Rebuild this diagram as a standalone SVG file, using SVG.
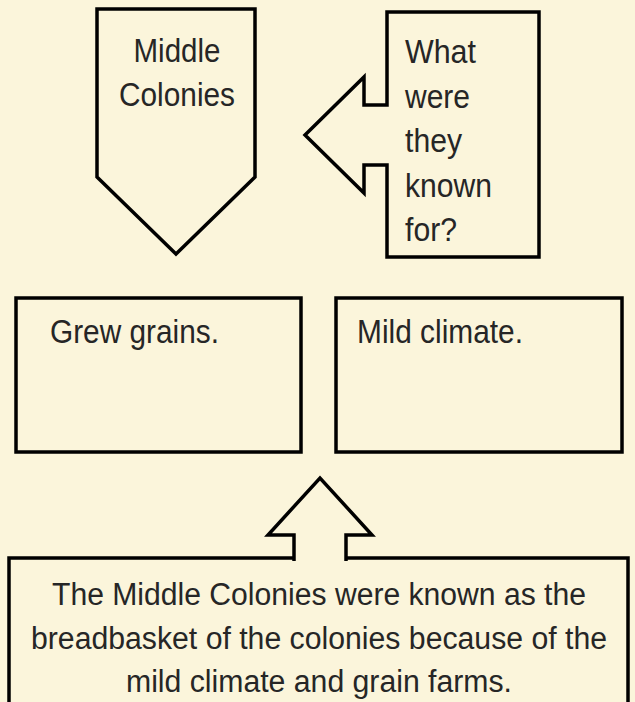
<svg xmlns="http://www.w3.org/2000/svg" width="635" height="702" viewBox="0 0 635 702">
  <style>
    .bg { fill: #FBF5DB; }
    .shape { fill: #FBF5DB; stroke: #000000; stroke-width: 3.5; stroke-linejoin: miter; }
    .label { font-family: "Liberation Sans", Arial, sans-serif; font-size: 33px; fill: #262626; }
    .mid { text-anchor: middle; }
    .small { font-size: 31px; }
  </style>
  <rect class="bg" x="0" y="0" width="635" height="702"/>

  <g id="middle-colonies">
    <polygon class="shape" points="97,9 255,9 255,177 176,254 97,177"/>
    <text class="label mid" x="177" y="62" textLength="87" lengthAdjust="spacingAndGlyphs">Middle</text>
    <text class="label mid" x="177" y="106" textLength="116" lengthAdjust="spacingAndGlyphs">Colonies</text>
  </g>

  <g id="what-known-for">
    <polygon class="shape" points="387,12 539,12 539,257 387,257 387,165 364,165 364,193 305,135 364,77 364,105 387,105"/>
    <text class="label" x="405" y="63" textLength="71" lengthAdjust="spacingAndGlyphs">What</text>
    <text class="label" x="405" y="107.5" textLength="65" lengthAdjust="spacingAndGlyphs">were</text>
    <text class="label" x="405" y="152" textLength="57" lengthAdjust="spacingAndGlyphs">they</text>
    <text class="label" x="405" y="196.5" textLength="87" lengthAdjust="spacingAndGlyphs">known</text>
    <text class="label" x="405" y="241" textLength="52" lengthAdjust="spacingAndGlyphs">for?</text>
  </g>

  <g id="grew-grains">
    <rect class="shape" x="16" y="298" width="285" height="154"/>
    <text class="label" x="50" y="343" textLength="169" lengthAdjust="spacingAndGlyphs">Grew grains.</text>
  </g>

  <g id="mild-climate">
    <rect class="shape" x="336" y="298" width="286" height="154"/>
    <text class="label" x="357" y="343" textLength="166" lengthAdjust="spacingAndGlyphs">Mild climate.</text>
  </g>

  <g id="breadbasket">
    <rect class="shape" x="9" y="558" width="619" height="150"/>
    <path class="shape" d="M294,561 V535 H268 L320,478 L372,535 H346 V561"/>
    <text class="label small mid" x="319" y="605" textLength="534" lengthAdjust="spacingAndGlyphs">The Middle Colonies were known as the</text>
    <text class="label small mid" x="319" y="649" textLength="576" lengthAdjust="spacingAndGlyphs">breadbasket of the colonies because of the</text>
    <text class="label small mid" x="319" y="692" textLength="386" lengthAdjust="spacingAndGlyphs">mild climate and grain farms.</text>
  </g>

  <g id="connectors"></g>
</svg>
